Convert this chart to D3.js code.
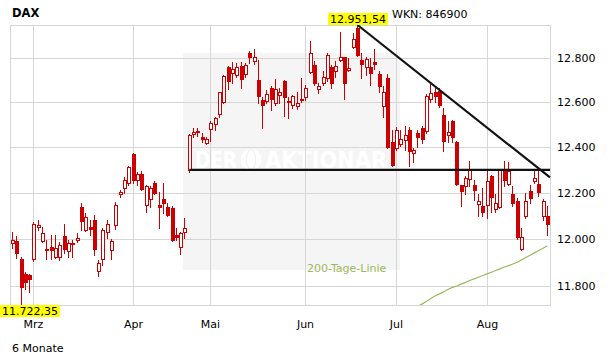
<!DOCTYPE html>
<html>
<head>
<meta charset="utf-8">
<script src="https://cdnjs.cloudflare.com/ajax/libs/d3/7.8.5/d3.min.js"></script>
<style>
body{margin:0;background:#fff;}
svg{display:block;}
text{font-family:"DejaVu Sans",sans-serif;}
</style>
</head>
<body>
<svg id="chart" width="611" height="364"></svg>
<script>
// DAX daily candles, 6 months (index 0 = first trading day shown)
var openV = [11986,11992,11918,11854,11847,11914,12051,11994,11960,11967,11923,11923,12016,11952,11986,11999,12139,12038,12053,12083,
	11867,11914,12033,11956,12060,12196,12222,12243,12372,12257,12284,12146,12174,12245,12149,12175,12139,12134,12018,11965,
	12029,12298,12458,12472,12446,12418,12480,12504,12549,12600,12759,12732,12725,12766,12727,12824,12785,12701,12610,12606,
	12664,12596,12632,12697,12607,12587,12584,12614,12623,12736,12770,12659,12686,12710,12760,12741,12792,12803,12747,12850,
	12939,12792,12759,12759,12783,12729,12585,12709,12422,12396,12414,12432,12477,12374,12462,12483,12472,12614,12648,12651,
	12544,12452,12517,12424,12233,12230,12261,12232,12152,12144,12149,12272,12130,12139,12301,12240,12193,12163,11957,12098,
	12207,12250,12240,12102,12102];
var highV = [12029,12013,11925,11861,11854,12073,12083,12054,11996,12018,12018,11989,12064,11996,11996,12025,12156,12112,12083,12105,
	11911,12047,12083,12003,12162,12214,12270,12316,12375,12293,12294,12236,12229,12250,12203,12243,12156,12141,12047,12032,
	12091,12458,12484,12484,12462,12447,12514,12536,12648,12724,12765,12783,12777,12780,12777,12830,12841,12792,12625,12653,
	12671,12705,12664,12701,12625,12633,12644,12709,12679,12879,12788,12686,12742,12823,12770,12785,12918,12807,12800,12914,
	12951.54,12823,12807,12800,12841,12739,12671,12729,12477,12489,12477,12495,12489,12396,12477,12492,12635,12682,12671,12664,
	12576,12517,12521,12429,12236,12272,12340,12258,12193,12222,12301,12279,12193,12301,12337,12333,12229,12178,12047,12200,
	12236,12298,12294,12175,12141];
var lowV = [11963,11922,11722.35,11790,11776,11908,12039,11989,11918,11918,11920,11911,11942,11925,11926,11989,12039,12035,12018,11932,
	11846,11892,12007,11914,12042,12181,12200,12232,12243,12232,12211,12117,12139,12193,12047,12112,12098,11993,11999,11939,
	12007,12291,12444,12450,12425,12412,12429,12477,12536,12596,12659,12686,12716,12662,12714,12777,12773,12596,12487,12596,
	12566,12589,12596,12540,12529,12576,12569,12603,12610,12732,12679,12641,12679,12697,12664,12716,12785,12615,12739,12845,
	12810,12709,12724,12679,12750,12648,12536,12396,12316,12388,12406,12388,12316,12335,12403,12418,12465,12603,12603,12578,
	12385,12425,12425,12236,12141,12193,12229,12171,12098,12098,12091,12119,12119,12134,12229,12236,12141,12003,11953,12091,
	12156,12243,12185,12083,12018];
var closeV = [11996,11943,11799,11818,11831,12064,12060,12025,11953,11956,11963,11977,11959,11986,11980,12007,12080,12095,12045,11959,
	11899,12038,12064,11994,12147,12204,12258,12313,12255,12283,12216,12230,12223,12200,12139,12154,12106,11999,12009,12025,
	12047,12455,12467,12467,12438,12437,12507,12529,12645,12720,12694,12750,12759,12707,12770,12803,12805,12630,12589,12638,
	12615,12659,12644,12623,12601,12629,12596,12609,12664,12823,12689,12674,12714,12815,12689,12764,12805,12689,12755,12886,
	12812,12771,12797,12732,12773,12671,12647,12403,12323,12477,12436,12453,12384,12388,12443,12436,12629,12641,12630,12587,
	12429,12468,12447,12237,12209,12265,12301,12213,12166,12117,12253,12182,12156,12298,12258,12294,12156,12010,12010,12163,
	12178,12265,12203,12163,12066];

// 200-Tage-Linie, starting at candle index sma200Start
var sma200Start = 93;
var sma200 = [11712,11717,11727,11738,11750,11761,11769,11778,11788,11796,11802,11810,11817,11825,11832,11839,11846,11853,
	11860,11867,11874,11882,11888,11895,11902,11912,11922,11932,11942,11952,11962,11972];

var monthLabels = ["Mrz","Apr","Mai","Jun","Jul","Aug"];
var monthStartIdx = [5,28,46,68,89,110];
var yTicks = [11800,12000,12200,12400,12600,12800];

// trend lines: [index, value]
var trendDown = [[80,12951.54],[124.6,12267]];
var supportLine = [[41,12300],[124.6,12300]];

var red = "#cc0000", gridColor = "#d6d6d6", smaColor = "#9cb85c";
var de = d3.formatLocale({decimal:",", thousands:".", grouping:[3], currency:["","€"]});
var fmt0 = de.format(",.0f"), fmt2 = de.format(",.2f");

var svg = d3.select('#chart');
var L = 10, R = 550, T = 25, B = 305;
var n = openV.length;
var x = d3.scaleLinear().domain([-0.55, n - 0.4]).range([L, R]);
var y = d3.scaleLog().domain([d3.min(lowV), d3.max(highV)]).range([B, T]);
function px(i){ return Math.floor(x(i)); }
function py(v){ return Math.round(y(v)); }

svg.append("rect").attr("width",611).attr("height",364).attr("fill","#fff");

// watermark
var wm = svg.append("g");
wm.append("rect").attr("x",183).attr("y",53).attr("width",217).attr("height",217).attr("fill","#f5f5f5");
wm.append("text").attr("x",195).attr("y",168).attr("font-size",23).attr("font-weight","bold")
	.attr("fill","#fff").attr("textLength",42).attr("lengthAdjust","spacingAndGlyphs").text("DER");
wm.append("circle").attr("cx",251).attr("cy",159.5).attr("r",10.5).attr("fill","#fff");
wm.append("ellipse").attr("cx",251).attr("cy",159.5).attr("rx",4.5).attr("ry",10).attr("fill","none").attr("stroke","#eeeeee");
wm.append("text").attr("x",265).attr("y",168).attr("font-size",23).attr("font-weight","bold")
	.attr("fill","#fff").attr("textLength",122).attr("lengthAdjust","spacingAndGlyphs").text("AKTIONÄR");

// grid
svg.selectAll(".hgrid").data(yTicks).enter().append("line")
	.attr("class","hgrid")
	.attr("x1",L).attr("x2",R)
	.attr("y1",function(d){ return py(d)+0.5; })
	.attr("y2",function(d){ return py(d)+0.5; })
	.attr("stroke",gridColor);
svg.selectAll(".vgrid").data(monthStartIdx).enter().append("line")
	.attr("class","vgrid")
	.attr("y1",T).attr("y2",B)
	.attr("x1",function(d){ return px(d)+0.5; })
	.attr("x2",function(d){ return px(d)+0.5; })
	.attr("stroke",gridColor);
svg.append("rect").attr("x",L+0.5).attr("y",T+0.5).attr("width",R-L).attr("height",B-T)
	.attr("fill","none").attr("stroke",gridColor);

// 200 day line
svg.append("clipPath").attr("id","plotclip").append("rect")
	.attr("x",L).attr("y",T).attr("width",R-L).attr("height",B-T);
var smaLine = d3.line()
	.x(function(d,i){ return x(sma200Start+i); })
	.y(function(d){ return y(d); });
svg.append("path").datum(sma200)
	.attr("d",smaLine)
	.attr("clip-path","url(#plotclip)")
	.attr("fill","none").attr("stroke",smaColor).attr("stroke-width",1.2);
svg.append("text").attr("x",307).attr("y",272).attr("font-size",11).attr("fill",smaColor).text("200-Tage-Linie");

// candles
var idx = d3.range(n);
var candle = svg.selectAll(".candle").data(idx).enter().append("g").attr("class","candle");
candle.append("line")
	.attr("x1",function(i){ return px(i)+0.5; })
	.attr("x2",function(i){ return px(i)+0.5; })
	.attr("y1",function(i){ return py(highV[i]); })
	.attr("y2",function(i){ return py(lowV[i])+1; })
	.attr("stroke",red);
candle.append("rect")
	.attr("x",function(i){ return px(i)-0.5; })
	.attr("width",3)
	.attr("y",function(i){ return py(Math.max(openV[i],closeV[i]))+0.5; })
	.attr("height",function(i){ return Math.max(1, py(Math.min(openV[i],closeV[i])) - py(Math.max(openV[i],closeV[i]))); })
	.attr("fill",function(i){ return closeV[i] >= openV[i] ? "#fff" : red; })
	.attr("stroke",red);

// trend lines
var tl = d3.line().x(function(d){ return x(d[0]); }).y(function(d){ return y(d[1]); });
svg.append("path").datum(trendDown).attr("d",tl).attr("fill","none").attr("stroke","#111").attr("stroke-width",2.2);
svg.append("path").datum(supportLine).attr("d",tl).attr("fill","none").attr("stroke","#111").attr("stroke-width",2.2);

// y axis labels
svg.selectAll(".ylab").data(yTicks).enter().append("text")
	.attr("class","ylab")
	.attr("x",557)
	.attr("y",function(d){ return py(d)+4; })
	.attr("font-size",11).attr("fill","#000")
	.text(function(d){ return fmt0(d); });

// month labels
svg.selectAll(".mlab").data(monthStartIdx).enter().append("text")
	.attr("class","mlab")
	.attr("x",function(d){ return px(d)+0.5; })
	.attr("y",327.5)
	.attr("text-anchor","middle")
	.attr("font-size",11).attr("fill","#000")
	.text(function(d,i){ return monthLabels[i]; });

// max / min labels
function tag(i, v, yTop){
	var g = svg.append("g");
	var t = g.append("text").attr("font-size",11).attr("fill","#000").text(fmt2(v));
	var w = t.node().getComputedTextLength() + 4;
	var x0 = Math.max(0, Math.round(x(i) - w/2));
	g.insert("rect","text").attr("x",x0).attr("y",yTop).attr("width",w).attr("height",12).attr("fill","#ffff00");
	t.attr("x",x0+2).attr("y",yTop+10);
}
var iMax = d3.maxIndex(highV), iMin = d3.minIndex(lowV);
tag(iMax, highV[iMax], 13);
tag(iMin, lowV[iMin], 305);

svg.append("text").attr("x",12).attr("y",17).attr("font-size",11.5).attr("font-weight","bold").text("DAX");
svg.append("text").attr("x",392).attr("y",18).attr("font-size",11).text("WKN: 846900");
svg.append("text").attr("x",12).attr("y",352).attr("font-size",11).text("6 Monate");
</script>
</body>
</html>
